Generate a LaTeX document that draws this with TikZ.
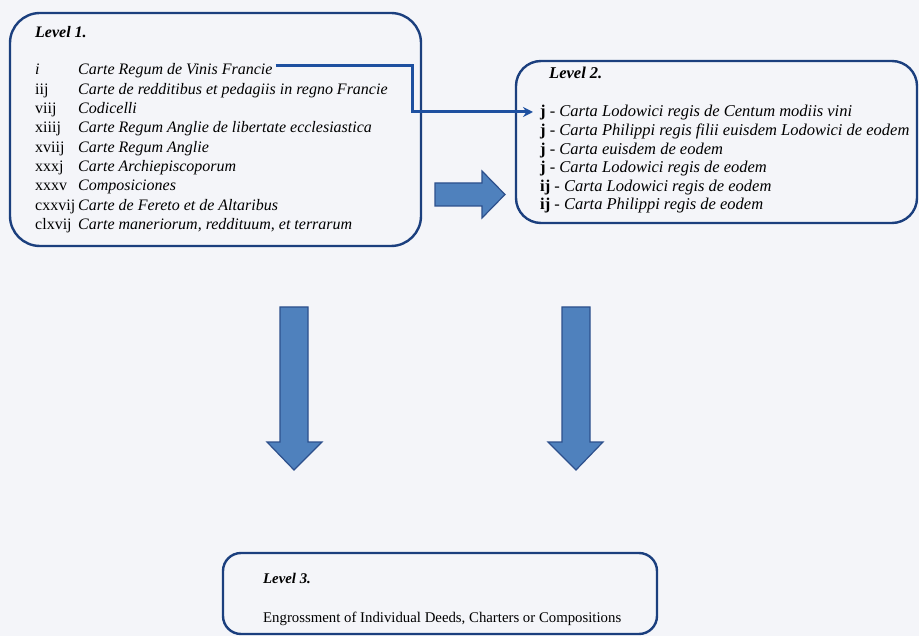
\documentclass[tikz,border=0pt]{standalone}
\usepackage{fontspec}
\setmainfont{Liberation Serif}
\usetikzlibrary{arrows.meta}
\definecolor{bordercol}{RGB}{27,63,126}
\definecolor{conncol}{RGB}{30,80,160}
\definecolor{arrowfill}{RGB}{79,129,189}
\definecolor{arrowedge}{RGB}{45,80,140}
\definecolor{bgcol}{RGB}{244,245,249}
\tikzset{
  levelbox/.style={draw=bordercol, line width=2.4pt, inner sep=0pt},
  txt/.style={anchor=base west, inner sep=0pt, font=\fontsize{16}{18}\selectfont},
  txttwo/.style={anchor=base west, inner sep=0pt, font=\fontsize{16.5}{18}\selectfont},
  smalltxt/.style={anchor=base west, inner sep=0pt, font=\fontsize{14.8}{17}\selectfont},
  linkline/.style={draw=conncol, line width=3pt},
  fatarrow/.style={fill=arrowfill, draw=arrowedge, line width=1.2pt, line join=miter}
}
\begin{document}
\begin{tikzpicture}[x=1pt,y=-1pt]
\fill[bgcol] (0,0) rectangle (919,636);
\useasboundingbox (0,0) rectangle (919,636);

% boxes
\node[levelbox, rounded corners=30pt, minimum width=411pt, minimum height=233pt] (L1) at (215.5,129.5) {};
\node[levelbox, rounded corners=25pt, minimum width=401pt, minimum height=162pt] (L2) at (716.5,142) {};
\node[levelbox, rounded corners=18pt, minimum width=434pt, minimum height=81pt] (L3) at (440,593.5) {};

% Level 1 text
\node[txt] (h1) at (35,38) {\textbf{\textit{Level 1.}}};
\foreach \n/\num/\title [count=\k] in {
  a/{\textit{i}}/{Carte Regum de Vinis Francie},
  b/iij/{Carte de redditibus et pedagiis in regno Francie},
  c/viij/{Codicelli},
  d/xiiij/{Carte Regum Anglie de libertate ecclesiastica},
  e/xviij/{Carte Regum Anglie},
  f/xxxj/{Carte Archiepiscoporum},
  g/xxxv/{Composiciones},
  h/cxxvij/{Carte de Fereto et de Altaribus},
  i/clxvij/{Carte maneriorum, reddituum, et terrarum}}{
  \node[txt] (n\n) at (35,{75+19.3*(\k-1)}) {\num};
  \node[txt] (t\n) at (78,{75+19.3*(\k-1)}) {\textit{\title}};
}

% Level 2 text
\node[txttwo] (h2) at (549,79) {\textbf{\textit{Level 2.}}};
\foreach \n/\num/\title [count=\k] in {
  a/j/{Carta Lodowici regis de Centum modiis vini},
  b/j/{Carta Philippi regis filii euisdem Lodowici de eodem},
  c/j/{Carta euisdem de eodem},
  d/j/{Carta Lodowici regis de eodem},
  e/ij/{Carta Lodowici regis de eodem},
  f/ij/{Carta Philippi regis de eodem}}{
  \node[txttwo] (r\n) at (540,{117+18.6*(\k-1)}) {\textbf{\num} - \textit{\title}};
}

% Level 3 text
\node[smalltxt] (h3) at (263,583) {\textbf{\textit{Level 3.}}};
\node[smalltxt] (e3) at (263,622) {Engrossment of Individual Deeds, Charters or Compositions};

% connector
\coordinate (bend) at (412,112);
\draw[linkline, -{Stealth[length=10pt,width=10pt]}] ([xshift=3pt,yshift=9pt]ta.base east) -| (bend) -- ([xshift=-7pt]bend -| ra.west);

% fat arrows
\filldraw[fatarrow] (435,183) -- (482,183) -- (482,171) -- (505,194.5) -- (482,218) -- (482,206) -- (435,206) -- cycle;
\filldraw[fatarrow] (280,307) -- (308,307) -- (308,442) -- (322,442) -- (294,470) -- (267,442) -- (280,442) -- cycle;
\filldraw[fatarrow] (562,307) -- (590,307) -- (590,442) -- (603,442) -- (576,470) -- (548,442) -- (562,442) -- cycle;
\end{tikzpicture}
\end{document}
